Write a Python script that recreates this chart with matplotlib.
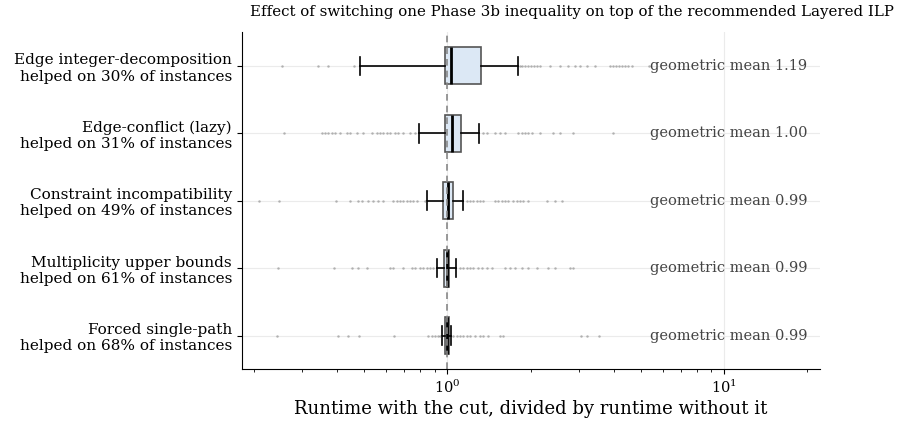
import matplotlib
matplotlib.use("Agg")
import matplotlib.pyplot as plt

plt.rcParams['font.family'] = ['DejaVu Serif']

# cuts, top to bottom
labels = [
    "Edge integer-decomposition\nhelped on 30% of instances",
    "Edge-conflict (lazy)\nhelped on 31% of instances",
    "Constraint incompatibility\nhelped on 49% of instances",
    "Multiplicity upper bounds\nhelped on 61% of instances",
    "Forced single-path\nhelped on 68% of instances",
]
geo_means = [1.19, 1.00, 0.99, 0.99, 0.99]

# box stats (runtime ratio with cut / without cut)
whislo = [0.484, 0.790, 0.843, 0.916, 0.954]
q1 = [0.981, 0.983, 0.962, 0.973, 0.983]
med = [1.029, 1.042, 1.006, 0.995, 0.995]
q3 = [1.323, 1.118, 1.051, 1.014, 1.012]
whishi = [1.800, 1.305, 1.139, 1.075, 1.034]

fliers_edge_int = [0.252, 0.340, 0.372, 0.461,
                   1.830, 1.861, 1.908, 1.956, 2.005, 2.056, 2.108, 2.161, 2.349, 2.553,
                   2.728, 2.891, 3.014, 3.194, 3.414, 3.868, 3.965, 4.064, 4.167, 4.272,
                   4.380, 4.490, 4.642, 5.349]
fliers_edge_conf = [0.257, 0.352, 0.362, 0.372, 0.383, 0.393, 0.410, 0.433, 0.445, 0.471,
                    0.497, 0.533, 0.556, 0.571, 0.587, 0.604, 0.621, 0.647, 0.665, 0.694,
                    0.733, 0.765,
                    1.349, 1.388, 1.486, 1.550, 1.615, 1.805, 1.856, 1.908, 1.961, 2.017,
                    2.161, 2.414, 2.553, 2.850, 3.975]
fliers_incompat = [0.209, 0.247, 0.396, 0.445, 0.477, 0.491, 0.519, 0.541, 0.563, 0.587,
                   0.638, 0.657, 0.675, 0.694, 0.714, 0.733, 0.754, 0.775, 0.831,
                   1.175, 1.207, 1.241, 1.277, 1.312, 1.349, 1.486, 1.528, 1.572, 1.615,
                   1.661, 1.731, 1.781, 1.830, 1.881, 1.961, 2.285, 2.448, 2.588]
fliers_mult = [0.245, 0.390, 0.452, 0.477, 0.512, 0.621, 0.638, 0.694, 0.744, 0.765,
               0.797, 0.819, 0.843, 0.866, 0.890,
               1.111, 1.142, 1.175, 1.207, 1.241, 1.294, 1.331, 1.388, 1.446, 1.615,
               1.684, 1.756, 1.856, 1.961, 2.102, 2.316, 2.448, 2.773, 2.850]
fliers_single = [0.243, 0.402, 0.437, 0.481, 0.644, 0.854, 0.878, 0.903, 0.928, 0.941,
                 1.051, 1.081, 1.111, 1.142, 1.175, 1.207, 1.259, 1.312, 1.349, 1.406,
                 1.550, 1.593, 3.031, 3.186, 3.538]
fliers = [fliers_edge_int, fliers_edge_conf, fliers_incompat, fliers_mult, fliers_single]

stats = []
for i in range(len(labels)):
    stats.append(dict(whislo=whislo[i], q1=q1[i], med=med[i], q3=q3[i],
                      whishi=whishi[i], fliers=fliers[i]))

fig = plt.figure(figsize=(8.97, 4.23), dpi=100)
ax = fig.add_axes([0.2695, 0.127, 0.6447, 0.797])

ax.bxp(stats, positions=range(len(labels)), vert=False, widths=0.55,
       patch_artist=True, showfliers=True,
       boxprops=dict(facecolor="#dce8f5", edgecolor="#555555", linewidth=1.2),
       medianprops=dict(color="black", linewidth=2),
       whiskerprops=dict(color="black", linewidth=1.2),
       capprops=dict(color="black", linewidth=1.2),
       flierprops=dict(marker="o", markersize=1.8, markerfacecolor="#555555",
                       markeredgecolor="none", alpha=0.4))

# reference line at ratio 1, drawn over the boxes
ax.axvline(1.0, color="#888888", linestyle=(0, (4, 3)), linewidth=1.2, zorder=2.5)

ax.set_xscale("log")
ax.set_xlim(0.181, 22.2)
ax.set_ylim(4.5, -0.5)
ax.set_yticks(range(len(labels)))
ax.set_yticklabels(labels, fontsize=11)
ax.tick_params(axis="x", labelsize=10.5)
ax.grid(True, which="major", color="#ebebeb", linewidth=0.8)
ax.set_axisbelow(True)

for side in ["top", "right"]:
    ax.spines[side].set_visible(False)

for i, g in enumerate(geo_means):
    ax.text(0.706, i, f"geometric mean {g:.2f}", transform=ax.get_yaxis_transform(),
            va="center", ha="left", fontsize=10.5, color="#444444")

ax.set_xlabel("Runtime with the cut, divided by runtime without it", fontsize=13, labelpad=2.5)
fig.text(0.996, 0.972, "Effect of switching one Phase 3b inequality on top of the recommended Layered ILP",
         ha="right", va="center", fontsize=10.8)

fig.savefig("out.png", dpi=100)
